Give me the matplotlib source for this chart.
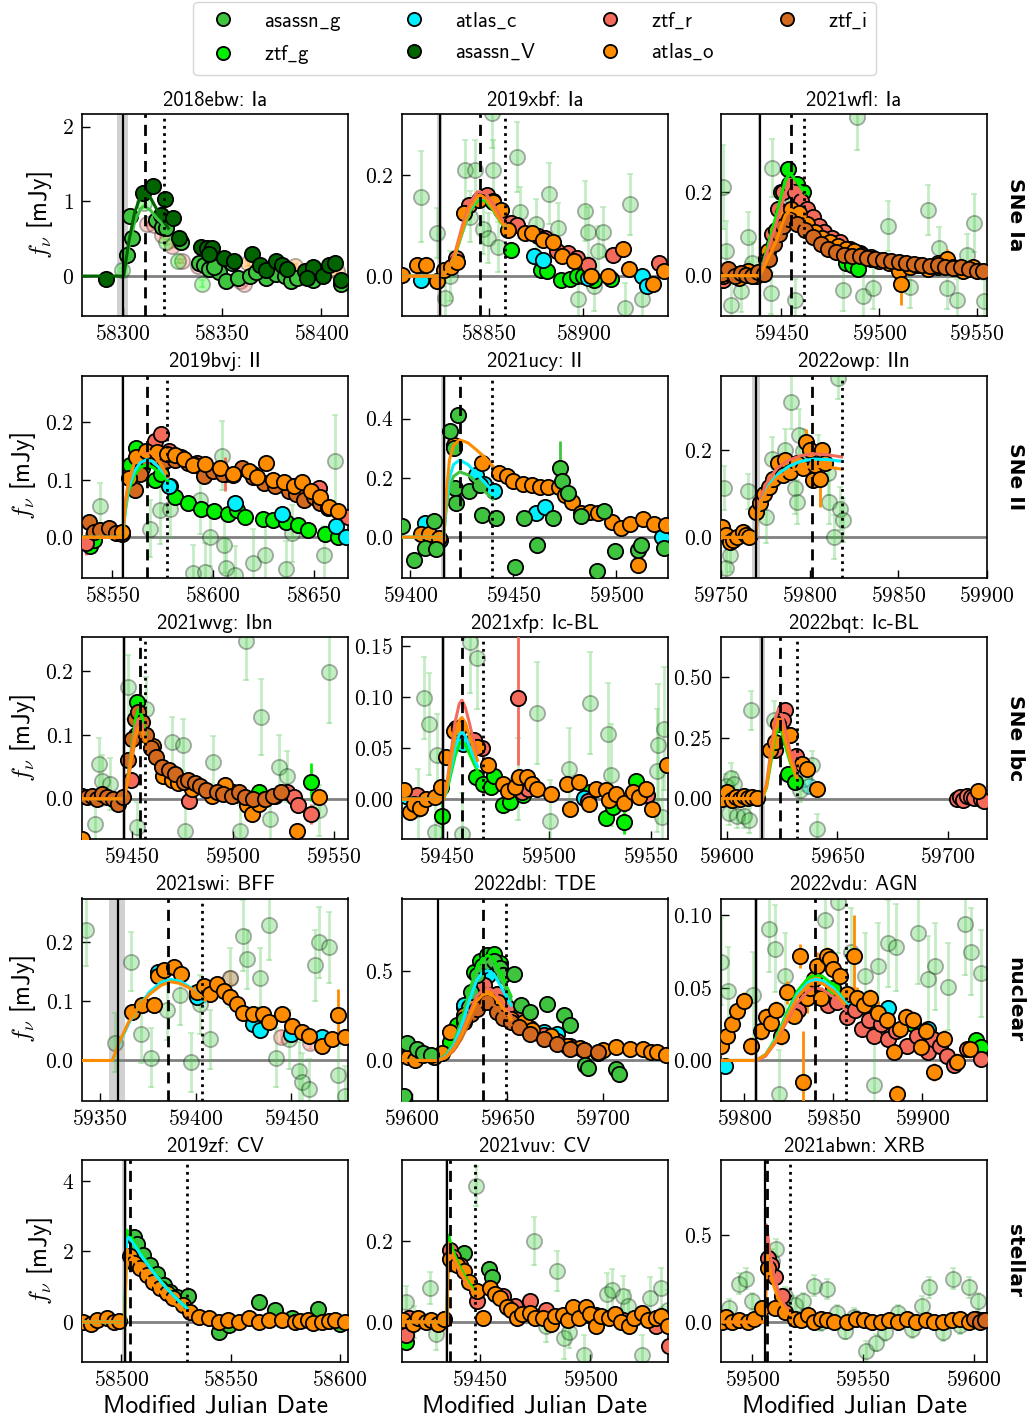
import matplotlib
matplotlib.use("Agg")
import matplotlib.pyplot as plt
from matplotlib.lines import Line2D

plt.rcParams['mathtext.fontset'] = 'cm'
plt.rcParams['font.family'] = 'cmr10'
plt.rcParams['axes.formatter.use_mathtext'] = True
plt.rcParams['axes.unicode_minus'] = False

# Band colours
colors = {
    'asassn_g': '#3fc43f',
    'ztf_g': '#00f000',
    'atlas_c': '#00f0ff',
    'asassn_V': '#006400',
    'ztf_r': '#f46b5c',
    'atlas_o': '#ff8c00',
    'ztf_i': '#d2691e',
}
legend_order = ['asassn_g', 'ztf_g', 'atlas_c', 'asassn_V', 'ztf_r', 'atlas_o', 'ztf_i']

titles = ['2018ebw: Ia', '2019xbf: Ia', '2021wfl: Ia',
          '2019bvj: II', '2021ucy: II', '2022owp: IIn',
          '2021wvg: Ibn', '2021xfp: Ic-BL', '2022bqt: Ic-BL',
          '2021swi: BFF', '2022dbl: TDE', '2022vdu: AGN',
          '2019zf: CV', '2021vuv: CV', '2021abwn: XRB']
row_labels = ['SNe Ia', 'SNe II', 'SNe Ibc', 'nuclear', 'stellar']

# first detection (solid line) with its uncertainty band, peak (dashed), end of fit window (dotted)
t_first = [58300.2, 58824.0, 59438.9, 58555.1, 59416.2, 59769.7, 59446.2, 59448.3, 59616.0,
           59359.7, 59613.7, 59806.7, 58501.5, 59435.0, 59506.0]
t_first_lo = [58297.2, 58822.8, 59438.1, 58554.3, 59414.9, 59767.2, 59445.2, 59447.3, 59614.5,
              59354.5, 59613.2, 59805.7, 58500.5, 59434.3, 59505.5]
t_first_hi = [58302.7, 58825.2, 59439.7, 58555.9, 59417.5, 59772.2, 59447.2, 59449.3, 59617.5,
              59363.1, 59614.2, 59807.7, 58502.5, 59435.7, 59506.5]
t_peak = [58311.0, 58845.2, 59455.1, 58567.2, 59424.2, 59801.5, 59454.4, 59457.4, 59624.0,
          59385.4, 59637.3, 59840.0, 58503.9, 59436.3, 59506.9]
t_cut = [58320.8, 58858.5, 59461.3, 58577.2, 59439.8, 59818.0, 59456.8, 59467.5, 59631.8,
         59403.6, 59649.5, 59857.4, 58530.1, 59447.6, 59517.3]

# ---------------- 2018ebw ----------------
ebw_V_t = [58291.5, 58310.2, 58315.2, 58321.4, 58319.4, 58325.3, 58328.6, 58339.5, 58342.4, 58345.0,
           58343.5, 58351.0, 58356.0, 58365.0, 58369.0, 58372.0, 58377.0, 58380.0, 58383.0, 58392.0,
           58396.0, 58401.0, 58404.0, 58407.0, 58410.0, 58393.0]
ebw_V_f = [-0.04, 1.11, 1.20, 1.03, 0.82, 0.78, 0.51, 0.39, 0.37, 0.38,
           0.30, 0.24, 0.20, 0.30, 0.15, 0.08, 0.20, 0.15, 0.10, 0.07,
           0.12, 0.00, 0.15, 0.18, -0.05, -0.03]
ebw_g_t = [58302.4, 58304.9, 58303.9, 58316.9, 58320.0, 58322.0, 58329.5, 58338.5, 58341.0, 58343.6,
           58348.5, 58352.0, 58355.0, 58358.0, 58364.0, 58372.0, 58377.0, 58382.0, 58385.0, 58396.0,
           58410.0, 58346.0, 58367.0, 58388.0]
ebw_g_f = [0.28, 0.51, 0.80, 0.75, 0.66, 0.64, 0.46, 0.18, 0.15, 0.10,
           0.06, -0.07, 0.17, -0.02, 0.00, -0.02, 0.03, 0.00, -0.07, -0.05,
           -0.10, 0.12, 0.05, -0.03]
ebw_r_weak_t = [58312, 58316, 58320, 58325, 58330, 58338, 58359, 58361]
ebw_r_weak_f = [0.70, 0.68, 0.55, 0.40, 0.20, 0.14, -0.06, -0.10]
ebw_r_weak_e = [0.03, 0.03, 0.03, 0.03, 0.03, 0.03, 0.03, 0.03]
ebw_o_weak_t = [58363, 58387, 58408]
ebw_o_weak_f = [0.17, 0.13, 0.07]
ebw_o_weak_e = [0.03, 0.03, 0.03]
ebw_zg_weak_t = [58299.5, 58310.5, 58322, 58328, 58339.8]
ebw_zg_weak_f = [0.08, 0.98, 0.45, 0.20, -0.10]
ebw_zg_weak_e = [0.03, 0.04, 0.04, 0.03, 0.05]
ebw_fitV_t = [58279.5, 58300.5, 58303, 58306, 58309, 58311, 58314, 58317, 58320, 58323]
ebw_fitV_f = [0, 0, 0.45, 0.85, 1.07, 1.11, 1.05, 0.90, 0.76, 0.64]
ebw_fitg_t = [58300.5, 58303, 58306, 58309, 58311, 58314, 58317, 58320, 58323]
ebw_fitg_f = [0, 0.38, 0.72, 0.90, 0.94, 0.88, 0.78, 0.70, 0.66]

# ---------------- 2019xbf ----------------
xbf_o_t = [58804, 58812, 58816.5, 58822.7, 58826, 58830, 58833.4, 58837, 58845, 58852,
           58856.4, 58860, 58869, 58873, 58878.6, 58884, 58904, 58913, 58921, 58924.5,
           58937, 58943, 58889, 58895]
xbf_o_f = [0.002, 0.022, 0.022, -0.01, 0.012, 0.018, 0.028, 0.124, 0.150, 0.147,
           0.131, 0.091, 0.085, 0.085, 0.071, 0.068, 0.0, 0.0, 0.053, 0.015,
           -0.015, 0.01, 0.04, 0.03]
xbf_r_t = [58832.4, 58839.5, 58849, 58852, 58861.7, 58865, 58876, 58880, 58892, 58897,
           58902.5, 58916, 58940, 58886]
xbf_r_f = [0.035, 0.14, 0.16, 0.148, 0.105, 0.102, 0.08, 0.075, 0.045, 0.035,
           0.022, 0.042, 0.025, 0.05]
xbf_c_t = [58814, 58874, 58878.6, 58902.5, 58931, 58934]
xbf_c_f = [-0.008, 0.04, 0.032, -0.003, 0.0, -0.02]
xbf_zg_t = [58861.7, 58877.7, 58881, 58888.3, 58893, 58897, 58900, 58906, 58915]
xbf_zg_f = [0.052, 0.012, 0.01, -0.008, -0.005, 0.0, 0.0, -0.008, -0.005]
xbf_g_weak_t = [58814, 58822.7, 58827, 58829.6, 58837.2, 58840, 58842.6, 58847.1, 58849.7, 58851.5,
                58852.4, 58855, 58864.8, 58866.5, 58875, 58882, 58886.5, 58897.2, 58901, 58902.5,
                58908, 58910.4, 58906, 58922.4, 58925, 58931]
xbf_g_weak_f = [0.157, 0.085, -0.043, 0.0, 0.21, 0.118, 0.21, 0.094, 0.075, 0.323,
                0.21, 0.058, 0.236, 0.126, 0.103, 0.163, 0.095, -0.045, 0.129, 0.087,
                0.05, 0.087, -0.02, -0.063, 0.142, -0.045]
xbf_g_weak_e = [0.09, 0.05, 0.04, 0.05, 0.06, 0.05, 0.06, 0.05, 0.05, 0.07,
                0.06, 0.05, 0.07, 0.05, 0.05, 0.06, 0.05, 0.05, 0.06, 0.05,
                0.05, 0.05, 0.05, 0.05, 0.06, 0.05]
xbf_fit_t = [58804, 58824, 58828, 58832, 58836, 58840, 58844, 58848, 58852, 58856, 58858.5]
xbf_fit_zg = [0, 0, 0.01, 0.04, 0.086, 0.128, 0.15, 0.15, 0.132, 0.108, 0.097]
xbf_fit_c = [0, 0, 0.01, 0.04, 0.088, 0.132, 0.155, 0.154, 0.135, 0.11, 0.1]
xbf_fit_r = [0, 0, 0.01, 0.045, 0.1, 0.145, 0.167, 0.165, 0.145, 0.118, 0.105]
xbf_fit_o = [0, 0, 0.01, 0.04, 0.09, 0.135, 0.157, 0.155, 0.135, 0.11, 0.098]

# ---------------- 2021wfl ----------------
wfl_i_t = [59419.5, 59422.5, 59426, 59429, 59432, 59435, 59438, 59441, 59443.5, 59446,
           59448.5, 59451, 59454, 59458, 59462, 59466, 59470, 59474, 59478, 59482,
           59486, 59490, 59494, 59498, 59502, 59506, 59510, 59514, 59518, 59522,
           59526, 59530, 59534, 59538, 59542, 59546, 59550, 59553]
wfl_i_f = [0.005, 0.015, 0.0, 0.006, 0.002, 0.0, 0.008, 0.004, 0.04, 0.075,
           0.1, 0.12, 0.135, 0.125, 0.11, 0.092, 0.077, 0.064, 0.056, 0.05,
           0.047, 0.047, 0.043, 0.04, 0.037, 0.034, 0.032, 0.03, 0.028, 0.026,
           0.023, 0.025, 0.02, 0.018, 0.02, 0.015, 0.012, 0.01]
wfl_r_t = [59442, 59445, 59448, 59451, 59454, 59457, 59460, 59463, 59466, 59469,
           59472, 59476, 59480, 59485, 59490, 59496, 59502, 59510, 59520, 59530,
           59540, 59420, 59426]
wfl_r_f = [0.04, 0.1, 0.16, 0.2, 0.22, 0.2, 0.18, 0.16, 0.14, 0.12,
           0.105, 0.09, 0.08, 0.065, 0.055, 0.045, 0.038, 0.03, 0.025, 0.02,
           0.018, -0.01, 0.005]
wfl_o_t = [59420, 59424, 59428, 59433, 59437, 59443, 59447, 59451, 59455, 59459,
           59463, 59467, 59471, 59475, 59479, 59483, 59487, 59491, 59496, 59500,
           59505, 59510, 59511, 59516, 59520, 59525, 59530, 59535, 59538, 59543,
           59548]
wfl_o_f = [0.0, 0.005, -0.005, 0.01, 0.0, 0.06, 0.11, 0.15, 0.16, 0.15,
           0.125, 0.105, 0.09, 0.08, 0.07, 0.065, 0.06, 0.05, 0.04, 0.035,
           0.03, 0.01, -0.02, 0.02, 0.025, 0.015, 0.03, 0.04, 0.02, 0.01,
           0.02]
wfl_o_e = [0.01, 0.01, 0.01, 0.01, 0.01, 0.01, 0.01, 0.01, 0.01, 0.01,
           0.01, 0.01, 0.01, 0.01, 0.01, 0.01, 0.01, 0.01, 0.01, 0.01,
           0.01, 0.01, 0.05, 0.01, 0.01, 0.01, 0.01, 0.025, 0.02, 0.01,
           0.01]
wfl_zg_t = [59450, 59453.5, 59458, 59461, 59483, 59486, 59489]
wfl_zg_f = [0.2, 0.255, 0.22, 0.2, 0.03, 0.025, 0.015]
wfl_g_weak_t = [59420, 59421.5, 59424.2, 59429, 59433, 59435, 59444.9, 59444.8, 59457, 59454,
                59481.5, 59488.5, 59492, 59497, 59504.7, 59516, 59525, 59530.6, 59535, 59539.9,
                59545, 59548.6, 59554]
wfl_g_weak_f = [0.213, 0.06, -0.07, -0.038, 0.093, 0.03, 0.258, -0.042, -0.058, 0.194,
                -0.035, 0.381, -0.05, -0.03, 0.118, -0.027, 0.157, 0.066, -0.03, -0.058,
                0.05, 0.127, -0.06]
wfl_g_weak_e = [0.1, 0.07, 0.06, 0.05, 0.06, 0.05, 0.07, 0.05, 0.05, 0.06,
                0.05, 0.08, 0.05, 0.05, 0.06, 0.05, 0.06, 0.05, 0.05, 0.05,
                0.05, 0.07, 0.05]
wfl_fit_t = [59419, 59438.9, 59447, 59452, 59454.5, 59458, 59462]
wfl_fit_zg = [0, 0, 0.14, 0.23, 0.245, 0.225, 0.198]
wfl_fit_r = [0, 0, 0.12, 0.2, 0.22, 0.205, 0.185]
wfl_fit_o = [0, 0, 0.08, 0.145, 0.158, 0.152, 0.142]
wfl_fit_i = [0, 0, 0.07, 0.125, 0.135, 0.13, 0.12]

# ---------------- 2019bvj ----------------
bvj_i_t = [58538.5, 58541, 58544, 58548.5, 58552, 58555, 58561.3, 58564, 58567.7, 58572,
           58576, 58581, 58587.6, 58591, 58595.5, 58600, 58605, 58610, 58614.6, 58620,
           58625.5, 58631, 58637.6, 58641, 58645, 58650, 58653, 58657]
bvj_i_f = [0.027, 0.01, 0.012, 0.016, 0.008, 0.005, 0.082, 0.11, 0.135, 0.137,
           0.133, 0.135, 0.13, 0.125, 0.106, 0.115, 0.11, 0.108, 0.12, 0.105,
           0.095, 0.09, 0.08, 0.075, 0.065, 0.07, 0.06, 0.051]
bvj_o_t = [58555, 58558.4, 58562, 58567, 58572, 58577, 58581, 58585.6, 58590, 58596,
           58603.6, 58610, 58617.8, 58622, 58626.5, 58630, 58635, 58640, 58644, 58648.4,
           58653, 58657.5, 58662]
bvj_o_f = [0.01, 0.103, 0.14, 0.15, 0.148, 0.145, 0.143, 0.137, 0.126, 0.128,
           0.12, 0.11, 0.115, 0.105, 0.13, 0.1, 0.097, 0.09, 0.097, 0.08,
           0.07, 0.052, 0.045]
bvj_r_t = [58537, 58571, 58574.4, 58578, 58584, 58592, 58606, 58620, 58640, 58652.7, 58667]
bvj_r_f = [-0.01, 0.168, 0.18, 0.15, 0.14, 0.13, 0.11, 0.11, 0.09, 0.085, 0.035]
bvj_r_e = [0.02, 0.005, 0.005, 0.005, 0.005, 0.005, 0.03, 0.005, 0.005, 0.005, 0.005]
bvj_zg_t = [58539, 58541, 58558.7, 58562, 58565, 58571, 58574, 58578.7, 58581, 58587.5,
            58594, 58600.7, 58607.4, 58612, 58616, 58625, 58630, 58636, 58642, 58647,
            58655.8, 58662]
bvj_zg_f = [-0.016, -0.005, 0.125, 0.155, 0.12, 0.1, 0.11, 0.09, 0.07, 0.06,
            0.05, 0.046, 0.04, 0.048, 0.035, 0.032, 0.03, 0.026, 0.022, 0.012,
            0.006, 0.0]
bvj_c_t = [58578.4, 58610.7, 58634, 58661, 58666]
bvj_c_f = [0.09, 0.06, 0.04, 0.02, 0.0]
bvj_g_weak_t = [58543.8, 58568.5, 58573.9, 58578.5, 58590, 58593.8, 58596, 58598.4, 58604.6, 58605.5,
                58606.7, 58611, 58620, 58625.6, 58636, 58639, 58655, 58660.5]
bvj_g_weak_f = [0.055, 0.015, 0.048, 0.05, -0.063, 0.065, -0.06, 0.0, 0.142, -0.013,
                -0.053, -0.065, -0.045, -0.03, -0.056, 0.007, -0.03, 0.132]
bvj_g_weak_e = [0.04, 0.05, 0.06, 0.05, 0.05, 0.06, 0.05, 0.05, 0.06, 0.05,
                0.05, 0.05, 0.06, 0.05, 0.05, 0.05, 0.05, 0.08]
bvj_fit_t = [58535, 58555.1, 58556.5, 58558, 58561, 58564, 58567, 58570, 58573, 58576, 58577.5]
bvj_fit_zg = [0, 0, 0.045, 0.08, 0.108, 0.122, 0.126, 0.122, 0.113, 0.103, 0.098]
bvj_fit_c = [0, 0, 0.05, 0.085, 0.115, 0.13, 0.135, 0.132, 0.122, 0.11, 0.103]
bvj_fit_r = [0, 0, 0.06, 0.095, 0.13, 0.147, 0.15, 0.145, 0.132, 0.115, 0.106]
bvj_fit_o = [0, 0, 0.06, 0.095, 0.13, 0.148, 0.152, 0.146, 0.133, 0.115, 0.105]

# ---------------- 2021ucy ----------------
ucy_g_t = [59396, 59401.6, 59407, 59411.3, 59412.4, 59419.4, 59423.1, 59421, 59421.5, 59422,
           59428.6, 59434, 59435, 59441.6, 59450.6, 59455, 59461.6, 59469, 59472.4, 59473.5,
           59476.6, 59483, 59490.7, 59494, 59499.4, 59510.3, 59512, 59523]
ucy_g_f = [0.036, -0.077, -0.037, 0.053, -0.04, 0.357, 0.413, 0.3, 0.165, 0.115,
           0.154, 0.176, 0.076, 0.064, -0.1, 0.064, -0.025, 0.064, 0.233, 0.19,
           0.15, 0.07, -0.115, 0.087, -0.048, -0.042, -0.025, -0.036]
ucy_g_e = [0.02, 0.02, 0.02, 0.02, 0.02, 0.02, 0.02, 0.02, 0.02, 0.02,
           0.02, 0.02, 0.02, 0.02, 0.02, 0.02, 0.02, 0.02, 0.09, 0.02,
           0.02, 0.02, 0.02, 0.02, 0.02, 0.02, 0.02, 0.02]
ucy_c_t = [59407, 59414.5, 59431.8, 59436, 59440.4, 59461, 59465.2, 59522]
ucy_c_f = [0.047, -0.008, 0.21, 0.18, 0.154, 0.08, 0.1, 0.002]
ucy_o_t = [59405, 59409, 59414, 59421, 59435, 59442.8, 59447, 59450, 59454.6, 59459,
           59463, 59467, 59472, 59475, 59478.6, 59483, 59487, 59491, 59497.8, 59502,
           59506.5, 59510.4, 59513, 59518, 59523.8]
ucy_o_f = [0.01, 0.01, -0.003, 0.31, 0.25, 0.216, 0.205, 0.19, 0.18, 0.175,
           0.17, 0.17, 0.17, 0.143, 0.12, 0.08, 0.085, 0.08, 0.05, 0.03,
           0.045, -0.094, 0.06, 0.045, 0.04]
ucy_fit_t = [59396, 59416.2, 59417.5, 59419, 59421, 59424, 59428, 59432, 59436, 59440]
ucy_fit_g = [0, 0, 0.1, 0.17, 0.205, 0.22, 0.21, 0.185, 0.155, 0.128]
ucy_fit_c = [0, 0, 0.12, 0.2, 0.245, 0.26, 0.245, 0.215, 0.185, 0.154]
ucy_fit_o = [0, 0, 0.15, 0.26, 0.31, 0.328, 0.318, 0.295, 0.27, 0.24]

# ---------------- 2022owp ----------------
owp_o_t = [59750.6, 59753, 59755, 59756.8, 59759, 59762.4, 59764, 59766, 59769.5, 59772,
           59774, 59776.8, 59779.5, 59782.3, 59785, 59786, 59789, 59792.6, 59796, 59798,
           59800, 59802, 59803, 59805.8, 59806.7, 59808.6]
owp_o_f = [0.024, 0.005, -0.01, -0.006, 0.0, 0.013, 0.005, 0.0, 0.059, 0.08,
           0.1, 0.117, 0.135, 0.17, 0.144, 0.178, 0.15, 0.17, 0.16, 0.22,
           0.2, 0.132, 0.167, 0.135, 0.2, 0.17]
owp_o_e = [0.01, 0.01, 0.01, 0.01, 0.01, 0.01, 0.01, 0.01, 0.01, 0.01,
           0.01, 0.01, 0.01, 0.01, 0.01, 0.01, 0.01, 0.01, 0.01, 0.03,
           0.01, 0.01, 0.01, 0.065, 0.01, 0.01]
owp_g_weak_t = [59751.6, 59755, 59752.7, 59765, 59775.5, 59779, 59786, 59789.4, 59792, 59793,
                59794, 59796.5, 59804.5, 59810.4, 59811, 59814, 59816, 59817, 59819]
owp_g_weak_f = [0.113, -0.04, -0.07, 0.106, 0.048, 0.18, 0.2, 0.31, 0.113, 0.082,
                0.236, 0.198, 0.186, 0.147, 0.082, 0.001, 0.367, 0.066, 0.04]
owp_g_weak_e = [0.05, 0.04, 0.05, 0.04, 0.06, 0.05, 0.05, 0.06, 0.06, 0.05,
                0.06, 0.05, 0.05, 0.05, 0.05, 0.05, 0.05, 0.05, 0.05]
owp_fit_t = [59750, 59769.7, 59770.5, 59773, 59777, 59782, 59788, 59795, 59802, 59810, 59818]
owp_fit_r = [0, 0, 0.06, 0.1, 0.135, 0.16, 0.177, 0.188, 0.192, 0.19, 0.185]
owp_fit_c = [0, 0, 0.05, 0.085, 0.12, 0.145, 0.163, 0.175, 0.18, 0.179, 0.175]
owp_fit_o = [0, 0, 0.05, 0.085, 0.115, 0.138, 0.152, 0.16, 0.163, 0.162, 0.157]

# ---------------- 2021wvg ----------------
wvg_i_t = [59425.6, 59428, 59430.5, 59433, 59435.5, 59438, 59441, 59443.3, 59445.8, 59448.3,
           59450, 59451.5, 59453, 59455, 59457, 59459.5, 59462, 59465, 59468.4, 59471.6,
           59475.7, 59478, 59481.5, 59484, 59487, 59492, 59495, 59499.6, 59503, 59506,
           59510, 59516, 59520, 59524]
wvg_i_f = [0.005, 0.003, 0.005, 0.0, 0.008, 0.002, 0.0, -0.008, 0.003, 0.06,
           0.094, 0.125, 0.135, 0.12, 0.1, 0.08, 0.065, 0.05, 0.045, 0.038,
           0.026, 0.03, 0.024, 0.02, 0.013, 0.01, 0.008, 0.005, 0.01, 0.002,
           0.0, 0.0, 0.005, 0.01]
wvg_o_t = [59425.6, 59460.5, 59465.3, 59470, 59473, 59480, 59490, 59496.4, 59501.3, 59507,
           59509.5, 59512.8, 59516, 59521, 59531.8, 59542.5]
wvg_o_f = [-0.063, 0.083, 0.035, 0.03, 0.025, 0.015, 0.005, 0.022, 0.006, -0.01,
           -0.024, -0.008, 0.0, 0.005, -0.05, 0.003]
wvg_r_t = [59449.5, 59452, 59478.6, 59500, 59526.8, 59530.2, 59532.5, 59538.9]
wvg_r_f = [0.03, 0.1, -0.004, 0.01, 0.01, 0.002, -0.01, -0.024]
wvg_r_e = [0.004, 0.004, 0.004, 0.004, 0.004, 0.004, 0.004, 0.015]
wvg_zg_t = [59452.5, 59470, 59513, 59538.9]
wvg_zg_f = [0.152, 0.04, 0.01, 0.026]
wvg_zg_e = [0.004, 0.004, 0.004, 0.03]
wvg_g_weak_t = [59432, 59434, 59435.2, 59439.4, 59448.3, 59452.8, 59457, 59469.8, 59475.6, 59476.3,
                59490.5, 59503.5, 59506.6, 59514, 59518.2, 59522.9, 59527, 59542.8, 59547.7]
wvg_g_weak_f = [-0.04, 0.055, 0.028, 0.023, 0.175, -0.045, 0.14, 0.088, 0.084, -0.05,
                0.058, -0.05, 0.246, 0.128, -0.031, 0.05, 0.035, -0.018, 0.199]
wvg_g_weak_e = [0.04, 0.04, 0.04, 0.04, 0.05, 0.04, 0.05, 0.04, 0.04, 0.04,
                0.04, 0.04, 0.06, 0.06, 0.04, 0.05, 0.04, 0.04, 0.08]
wvg_fit_t = [59425.5, 59446.2, 59448, 59450, 59452, 59453.5, 59455, 59457]
wvg_fit_zg = [0, 0, 0.03, 0.08, 0.125, 0.14, 0.13, 0.1]
wvg_fit_r = [0, 0, 0.03, 0.075, 0.112, 0.125, 0.118, 0.095]
wvg_fit_o = [0, 0, 0.025, 0.065, 0.1, 0.112, 0.108, 0.09]
wvg_fit_i = [0, 0, 0.025, 0.06, 0.095, 0.105, 0.1, 0.085]

# ---------------- 2021xfp ----------------
xfp_o_t = [59428.8, 59432, 59434, 59437, 59440, 59444.4, 59446.9, 59449.4, 59453.5, 59456,
           59465, 59470, 59477.4, 59480, 59483.6, 59485.2, 59489.3, 59491.8, 59494, 59500.8,
           59509, 59510.6, 59514.7, 59519.7, 59522.9, 59527.8, 59529.5, 59533, 59536.9, 59541,
           59544, 59547.5, 59550.8, 59558]
xfp_o_f = [0.009, -0.013, -0.005, -0.009, 0.0, 0.002, 0.012, 0.041, 0.067, 0.07,
           0.051, 0.033, 0.015, 0.008, 0.012, 0.022, 0.022, 0.015, 0.01, 0.005,
           0.015, -0.01, 0.017, -0.005, 0.01, 0.009, -0.001, 0.005, -0.004, 0.007,
           0.002, 0.01, -0.01, 0.033]
xfp_r_t = [59435.4, 59454.5, 59463.5, 59467, 59484.9, 59486.8, 59490, 59519, 59548]
xfp_r_f = [0.004, 0.07, 0.058, 0.05, 0.0987, 0.007, 0.01, -0.002, 0.004]
xfp_r_e = [0.003, 0.005, 0.004, 0.004, 0.065, 0.004, 0.004, 0.004, 0.004]
xfp_c_t = [59430, 59458, 59517]
xfp_c_f = [0.003, 0.054, 0.001]
xfp_zg_t = [59447.6, 59464.3, 59467.6, 59471.7, 59473, 59477.6, 59480.8, 59487.4, 59520, 59528,
            59531.4, 59536.9, 59542.8]
xfp_zg_f = [-0.016, 0.022, 0.015, 0.012, 0.023, -0.006, -0.003, 0.004, 0.007, -0.018,
            -0.008, -0.022, 0.018]
xfp_zg_e = [0.02, 0.005, 0.005, 0.005, 0.005, 0.008, 0.005, 0.005, 0.005, 0.005,
            0.005, 0.012, 0.008]
xfp_g_weak_t = [59438.7, 59441, 59445, 59444, 59461.2, 59465, 59457.5, 59494, 59500.7, 59520,
                59528.8, 59530.7, 59553.6, 59556.5, 59552.8, 59555.3, 59436, 59485, 59510]
xfp_g_weak_f = [0.099, 0.074, 0.043, -0.032, 0.154, 0.138, -0.034, 0.084, -0.021, 0.094,
                0.064, 0.024, 0.053, 0.069, 0.028, -0.017, -0.01, 0.02, 0.03]
xfp_g_weak_e = [0.04, 0.05, 0.04, 0.04, 0.05, 0.05, 0.04, 0.05, 0.04, 0.05,
                0.05, 0.05, 0.06, 0.06, 0.06, 0.05, 0.04, 0.04, 0.04]
xfp_fit_t = [59428, 59448.3, 59450, 59452, 59454, 59456, 59457.4, 59459, 59461, 59463, 59465]
xfp_fit_zg = [0, 0, 0.008, 0.025, 0.042, 0.054, 0.057, 0.053, 0.045, 0.036, 0.028]
xfp_fit_c = [0, 0, 0.01, 0.03, 0.05, 0.063, 0.066, 0.062, 0.052, 0.042, 0.032]
xfp_fit_o = [0, 0, 0.012, 0.038, 0.062, 0.077, 0.08, 0.075, 0.062, 0.05, 0.038]
xfp_fit_r = [0, 0, 0.015, 0.045, 0.075, 0.093, 0.097, 0.09, 0.075, 0.058, 0.045]

# ---------------- 2022bqt ----------------
bqt_o_t = [59597.8, 59600, 59602.2, 59604, 59606, 59608, 59609.8, 59611.5, 59613.5, 59619.5,
           59621.8, 59623.3, 59628.6, 59634, 59636.1, 59640.6, 59713.6]
bqt_o_f = [0.0, 0.027, -0.007, 0.005, 0.0, 0.01, 0.003, 0.008, 0.003, 0.198,
           0.233, 0.308, 0.26, 0.14, 0.123, 0.041, 0.032]
bqt_r_t = [59621.8, 59626.3, 59625.5, 59628, 59631.5, 59704, 59705.5, 59707, 59708.5, 59710.6,
           59712, 59715, 59716.5]
bqt_r_f = [0.198, 0.363, 0.323, 0.26, 0.173, 0.0, 0.007, -0.005, 0.01, 0.007,
           0.003, 0.0, -0.01]
bqt_zg_t = [59627.8, 59630.8]
bqt_zg_f = [0.1, 0.066]
bqt_g_weak_t = [59599.6, 59601.8, 59603.2, 59601, 59604.8, 59607.8, 59610, 59610.8, 59621.2, 59633.3,
                59634.8, 59638.6, 59640.9]
bqt_g_weak_f = [0.05, 0.086, 0.06, -0.06, -0.07, -0.07, -0.09, 0.362, 0.322, 0.034,
                0.082, 0.137, -0.123]
bqt_g_weak_e = [0.05, 0.06, 0.05, 0.05, 0.05, 0.05, 0.05, 0.08, 0.08, 0.05,
                0.05, 0.06, 0.06]
bqt_c_weak_t = [59637]
bqt_c_weak_f = [0.05]
bqt_c_weak_e = [0.03]
bqt_fit_t = [59597.4, 59616, 59618, 59620, 59622, 59623.5, 59625, 59627, 59629, 59631.8]
bqt_fit_zg = [0, 0, 0.045, 0.15, 0.26, 0.29, 0.27, 0.2, 0.14, 0.07]
bqt_fit_o = [0, 0, 0.05, 0.17, 0.28, 0.31, 0.29, 0.22, 0.15, 0.08]
bqt_fit_r = [0, 0, 0.06, 0.2, 0.33, 0.37, 0.34, 0.26, 0.18, 0.09]

# ---------------- 2021swi ----------------
swi_o_t = [59367, 59372, 59378.5, 59380.4, 59383.7, 59388.9, 59392.3, 59400.9, 59404.4, 59407.8,
           59411.3, 59414.7, 59418.1, 59421.5, 59425, 59430, 59435.2, 59438.7, 59445.5, 59450.7,
           59455.8, 59459.3, 59466.1, 59471.3, 59474.7, 59478.2]
swi_o_f = [0.082, 0.093, 0.093, 0.143, 0.152, 0.158, 0.146, 0.115, 0.126, 0.112,
           0.13, 0.118, 0.107, 0.095, 0.081, 0.079, 0.079, 0.065, 0.079, 0.059,
           0.048, 0.042, 0.025, 0.037, 0.076, 0.04]
swi_o_e = [0.006, 0.006, 0.006, 0.006, 0.006, 0.006, 0.006, 0.006, 0.006, 0.006,
           0.006, 0.006, 0.006, 0.006, 0.006, 0.006, 0.006, 0.006, 0.006, 0.006,
           0.006, 0.006, 0.006, 0.006, 0.045, 0.006]
swi_c_t = [59380.4, 59400.9, 59430, 59433.5, 59450, 59466]
swi_c_f = [0.149, 0.107, 0.062, 0.051, 0.045, 0.04]
swi_g_weak_t = [59342.5, 59357.9, 59366.5, 59371.7, 59376.8, 59385, 59392, 59397.5, 59402.6, 59407.8,
                59418, 59425, 59427, 59433.5, 59438.7, 59442, 59449, 59454, 59455.8, 59459.3,
                59462.7, 59464.4, 59469.6, 59474.7, 59478]
swi_g_weak_f = [0.22, 0.03, 0.167, 0.045, 0.005, 0.085, 0.11, -0.003, 0.095, 0.036,
                0.14, 0.211, 0.171, 0.14, 0.229, 0.005, 0.036, -0.018, -0.037, -0.048,
                0.161, 0.2, 0.191, -0.025, -0.06]
swi_g_weak_e = [0.06, 0.05, 0.05, 0.05, 0.05, 0.05, 0.05, 0.05, 0.05, 0.05,
                0.05, 0.06, 0.05, 0.05, 0.06, 0.05, 0.05, 0.05, 0.05, 0.05,
                0.06, 0.06, 0.06, 0.05, 0.05]
swi_r_weak_t = [59418, 59445, 59460]
swi_r_weak_f = [0.14, 0.04, 0.03]
swi_r_weak_e = [0.01, 0.01, 0.01]
swi_fito_t = [59340.6, 59356.5, 59360, 59365, 59370, 59376, 59382, 59387, 59392, 59397, 59402, 59405]
swi_fito_f = [0, 0, 0.03, 0.065, 0.09, 0.112, 0.127, 0.133, 0.13, 0.122, 0.11, 0.102]
swi_fitc_t = [59356.5, 59360, 59365, 59370, 59376, 59382, 59387, 59392, 59397, 59402, 59405]
swi_fitc_f = [0, 0.028, 0.062, 0.09, 0.116, 0.132, 0.137, 0.134, 0.124, 0.11, 0.1]

# ---------------- 2022dbl ----------------
dbl_g_t = [59596, 59597.8, 59603, 59606, 59610, 59627.3, 59630.8, 59634.3, 59637, 59639.5,
           59643, 59646, 59648, 59653.5, 59657, 59662, 59671, 59679.6, 59683, 59690.8,
           59692, 59707, 59708.6]
dbl_g_f = [-0.2, 0.1, 0.065, 0.04, 0.028, 0.234, 0.384, 0.478, 0.53, 0.552,
           0.56, 0.52, 0.478, 0.487, 0.309, 0.272, 0.318, 0.253, 0.2, -0.028,
           -0.045, -0.047, -0.074]
dbl_zg_t = [59620.3, 59623.8, 59627.3, 59632.6, 59636, 59639.5, 59643, 59646]
dbl_zg_f = [0.103, 0.197, 0.3, 0.496, 0.56, 0.59, 0.6, 0.55]
dbl_c_t = [59627.3, 59634, 59640, 59648, 59662, 59669, 59676]
dbl_c_f = [0.309, 0.403, 0.48, 0.356, 0.178, 0.159, 0.15]
dbl_r_t = [59630, 59637.7, 59644.7, 59650, 59655, 59662, 59669, 59676, 59683, 59690, 59697.6]
dbl_r_f = [0.3, 0.422, 0.375, 0.3, 0.234, 0.18, 0.141, 0.11, 0.084, 0.06, 0.04]
dbl_i_t = [59627.4, 59631, 59634.3, 59639.5, 59644.7, 59648, 59651.7, 59656, 59662, 59669,
           59676, 59683, 59690, 59697.6]
dbl_i_f = [0.215, 0.26, 0.29, 0.328, 0.272, 0.24, 0.215, 0.19, 0.15, 0.122,
           0.095, 0.065, 0.056, 0.047]
dbl_o_t = [59598, 59602, 59606, 59611.6, 59616, 59620.3, 59627.3, 59633, 59639.5, 59645,
           59651.7, 59658.6, 59663, 59672.7, 59681.4, 59688, 59700, 59707, 59714, 59721,
           59725, 59728, 59733]
dbl_o_f = [0.019, 0.0, 0.03, 0.019, 0.04, 0.159, 0.253, 0.33, 0.37, 0.33,
           0.234, 0.215, 0.17, 0.14, 0.084, 0.07, 0.06, 0.075, 0.066, 0.065,
           0.05, 0.047, 0.028]
dbl_fit_t = [59595, 59613.7, 59618, 59622, 59626, 59630, 59634, 59637.5, 59640, 59643, 59646, 59649.5, 59652]
dbl_fit_zg = [0, 0, 0.03, 0.1, 0.22, 0.38, 0.52, 0.58, 0.59, 0.57, 0.5, 0.42, 0.36]
dbl_fit_g = [0, 0, 0.028, 0.095, 0.21, 0.36, 0.49, 0.545, 0.555, 0.535, 0.47, 0.4, 0.34]
dbl_fit_c = [0, 0, 0.025, 0.085, 0.19, 0.33, 0.45, 0.5, 0.505, 0.485, 0.43, 0.36, 0.31]
dbl_fit_r = [0, 0, 0.02, 0.07, 0.15, 0.26, 0.36, 0.4, 0.405, 0.39, 0.345, 0.29, 0.25]
dbl_fit_o = [0, 0, 0.018, 0.065, 0.14, 0.24, 0.335, 0.37, 0.375, 0.36, 0.32, 0.27, 0.23]
dbl_fit_i = [0, 0, 0.016, 0.055, 0.12, 0.21, 0.29, 0.32, 0.325, 0.31, 0.275, 0.235, 0.2]

# ---------------- 2022vdu ----------------
vdu_o_t = [59787, 59790.6, 59793, 59796, 59800, 59804, 59809.5, 59812, 59815, 59818,
           59820.6, 59824.3, 59828, 59831.6, 59833, 59835, 59837, 59839, 59841, 59843,
           59846.5, 59848, 59850, 59854, 59857.8, 59861.5, 59863.4, 59867, 59870.8, 59875,
           59880, 59884, 59885.8, 59887.6, 59891, 59895, 59899, 59902, 59906.7, 59912,
           59919.6, 59927]
vdu_o_f = [0.01, 0.017, 0.025, 0.034, 0.041, 0.01, 0.02, 0.03, 0.026, 0.035,
           0.017, 0.047, 0.031, 0.072, -0.015, 0.043, 0.05, 0.056, 0.065, 0.043,
           0.072, 0.07, 0.063, 0.058, 0.046, 0.072, 0.043, 0.038, 0.043, 0.033,
           0.028, 0.006, -0.023, 0.022, 0.03, 0.028, 0.009, 0.02, -0.008, 0.015,
           -0.001, 0.008]
vdu_o_e = [0.006, 0.006, 0.006, 0.006, 0.006, 0.006, 0.006, 0.006, 0.006, 0.006,
           0.006, 0.008, 0.006, 0.008, 0.035, 0.01, 0.008, 0.008, 0.01, 0.008,
           0.006, 0.006, 0.006, 0.006, 0.006, 0.028, 0.008, 0.006, 0.006, 0.008,
           0.006, 0.006, 0.006, 0.006, 0.006, 0.006, 0.006, 0.006, 0.006, 0.006,
           0.006, 0.006]
vdu_r_t = [59830, 59840, 59847, 59852, 59858, 59862, 59866, 59870, 59873, 59877,
           59880.5, 59885, 59891.5, 59897, 59903, 59906, 59910, 59914, 59917.8, 59925,
           59932.9]
vdu_r_f = [0.035, 0.045, 0.038, 0.04, 0.03, 0.035, 0.022, 0.028, 0.017, 0.025,
           0.015, 0.02, 0.01, 0.017, 0.006, 0.015, 0.01, 0.003, -0.003, 0.008,
           0.001]
vdu_c_t = [59789, 59860, 59880.5, 59903]
vdu_c_f = [-0.004, 0.04, 0.036, 0.022]
vdu_zg_t = [59850, 59870, 59895, 59930, 59933]
vdu_zg_f = [0.05, 0.035, 0.025, 0.014, 0.009]
vdu_g_weak_t = [59787.1, 59791, 59805, 59813.8, 59817.5, 59819.4, 59823, 59845.3, 59852.7, 59860.2,
                59867.6, 59873, 59875, 59880.6, 59885, 59897.7, 59903.3, 59907, 59914.4, 59923.7,
                59927.4, 59933]
vdu_g_weak_f = [0.068, 0.048, 0.045, 0.091, 0.077, -0.023, 0.058, 0.097, 0.109, 0.075,
                0.058, -0.017, 0.065, 0.081, 0.078, 0.088, 0.056, 0.065, 0.051, 0.094,
                0.075, 0.06]
vdu_g_weak_e = [0.03, 0.03, 0.03, 0.03, 0.03, 0.03, 0.03, 0.035, 0.035, 0.03,
                0.03, 0.03, 0.03, 0.03, 0.03, 0.035, 0.03, 0.03, 0.03, 0.035,
                0.03, 0.03]
vdu_fit_t = [59787, 59806.7, 59812, 59818, 59824, 59830, 59836, 59840, 59844, 59850, 59857]
vdu_fit_o = [0, 0, 0.004, 0.014, 0.03, 0.044, 0.052, 0.054, 0.053, 0.048, 0.038]
vdu_fit_r = [0, 0, 0.003, 0.013, 0.027, 0.04, 0.048, 0.05, 0.049, 0.044, 0.035]
vdu_fit_c = [0, 0, 0.004, 0.015, 0.031, 0.046, 0.054, 0.056, 0.055, 0.05, 0.04]
vdu_fit_zg = [0, 0, 0.004, 0.016, 0.033, 0.048, 0.057, 0.059, 0.058, 0.052, 0.04]

# ---------------- 2019zf ----------------
zf_o_t = [58482.6, 58486, 58489, 58493.4, 58496.5, 58499, 58504.2, 58505.7, 58508.7, 58511.7,
          58514.7, 58517.8, 58520.8, 58523.8, 58528.3, 58531.3, 58535.8, 58540.3, 58544.9, 58549,
          58554, 58558.6, 58563, 58567.6, 58573.6, 58579.7, 58582, 58585.7, 58588, 58591.7,
          58595, 58597.8, 58602.3]
zf_o_f = [0.0, -0.05, 0.05, 0.1, 0.0, 0.02, 1.86, 1.67, 1.52, 1.33,
          1.14, 0.95, 0.81, 0.67, 0.48, 0.29, 0.14, 0.1, 0.0, 0.05,
          0.0, 0.1, 0.0, 0.05, 0.05, 0.0, 0.03, 0.05, -0.02, 0.0,
          0.03, 0.05, 0.0]
zf_g_t = [58505.7, 58507.2, 58510, 58513, 58516.5, 58519.5, 58522.3, 58525.5, 58530.5, 58544.9,
          58549.5, 58563, 58570.5, 58578, 58590, 58600]
zf_g_f = [2.4, 2.21, 1.9, 1.6, 1.35, 1.05, 0.86, 0.7, 0.73, -0.29,
          -0.1, 0.57, 0.33, 0.1, 0.38, -0.05]
zf_fit_t = [58482, 58501.5, 58502.5, 58503.5, 58506, 58510, 58515, 58520, 58525, 58530]
zf_fit_zg = [0, 0, 2.6, 2.55, 2.25, 1.85, 1.4, 1.02, 0.68, 0.4]
zf_fit_c = [0, 0, 2.35, 2.4, 2.18, 1.8, 1.38, 1.0, 0.68, 0.38]
zf_fit_o = [0, 0, 2.05, 2.0, 1.75, 1.4, 1.02, 0.72, 0.48, 0.28]

# ---------------- 2021vuv ----------------
vuv_o_t = [59415.1, 59419.6, 59422, 59425.6, 59428, 59431, 59433.5, 59436.6, 59439.6, 59442.6,
           59445, 59448.6, 59451.6, 59454.6, 59457, 59459.1, 59462.1, 59464, 59466.6, 59469,
           59472.6, 59475, 59478.6, 59482, 59484, 59487.6, 59490, 59492.1, 59495, 59498.1,
           59500, 59502.6, 59505, 59508.6, 59511, 59514, 59517.6, 59520, 59523.6, 59526,
           59529.6, 59532, 59535]
vuv_o_f = [0.004, -0.004, 0.01, 0.0, 0.005, -0.005, 0.008, 0.157, 0.142, 0.126,
           0.1, 0.076, 0.009, 0.084, 0.07, 0.06, 0.037, 0.03, 0.009, 0.02,
           0.021, 0.01, 0.009, -0.005, 0.015, 0.017, 0.005, 0.037, 0.01, 0.037,
           0.02, -0.009, 0.015, 0.009, 0.02, 0.0, -0.009, 0.01, 0.021, 0.005,
           0.009, 0.015, -0.01]
vuv_r_t = [59416.6, 59418, 59436.6, 59438, 59441, 59448.6, 59460.6, 59466, 59472.6, 59480,
           59490, 59502.6, 59515, 59529.6, 59535.6]
vuv_r_f = [-0.033, 0.01, 0.178, 0.16, 0.14, 0.052, 0.064, 0.04, 0.052, 0.03,
           0.01, 0.017, 0.005, -0.009, -0.06]
vuv_r_e = [0.03, 0.005, 0.005, 0.005, 0.005, 0.005, 0.005, 0.005, 0.005, 0.005,
           0.005, 0.005, 0.005, 0.005, 0.01]
vuv_zg_t = [59416.6, 59499.6]
vuv_zg_f = [-0.05, 0.017]
vuv_zg_e = [0.015, 0.005]
vuv_g_t = [59442.6, 59454, 59455.6]
vuv_g_f = [0.17, 0.13, 0.11]
vuv_g_weak_t = [59416.6, 59420, 59427.2, 59430, 59448.3, 59474.6, 59480, 59485, 59488, 59490.5,
                59497, 59507.6, 59510, 59514.6, 59517, 59523.6, 59527, 59532, 59535]
vuv_g_weak_f = [0.05, 0.0, 0.084, -0.03, 0.337, 0.2, -0.01, 0.126, -0.041, -0.025,
                -0.083, 0.07, 0.08, 0.063, 0.04, -0.083, 0.06, 0.084, 0.03]
vuv_g_weak_e = [0.04, 0.04, 0.04, 0.04, 0.05, 0.06, 0.04, 0.05, 0.05, 0.04,
                0.05, 0.05, 0.05, 0.05, 0.04, 0.05, 0.05, 0.05, 0.05]
vuv_fit_t = [59414.7, 59435, 59435.8, 59437, 59439, 59441, 59443, 59445, 59447.6]
vuv_fit_zg = [0, 0, 0.215, 0.19, 0.16, 0.135, 0.115, 0.097, 0.078]
vuv_fit_r = [0, 0, 0.19, 0.17, 0.145, 0.122, 0.103, 0.088, 0.07]
vuv_fit_o = [0, 0, 0.195, 0.175, 0.15, 0.127, 0.108, 0.09, 0.072]

# ---------------- 2021abwn ----------------
abwn_o_t = [59486.5, 59488.3, 59491, 59494, 59498.4, 59501, 59504.3, 59507.3, 59510.3, 59514.7,
            59519.2, 59522, 59525.2, 59528, 59531.1, 59534, 59537.1, 59543, 59547, 59550.5,
            59554, 59558, 59562, 59566, 59569.8, 59574, 59578.7, 59582, 59586.2, 59590,
            59594, 59598, 59601, 59604]
abwn_o_f = [0.0, 0.03, 0.0, 0.01, 0.0, 0.02, 0.08, 0.31, 0.08, 0.06,
            0.02, 0.01, 0.04, 0.0, 0.02, 0.01, 0.0, 0.0, 0.02, 0.01,
            0.0, 0.0, 0.01, 0.0, 0.02, 0.0, 0.01, 0.0, 0.0, 0.01,
            0.02, 0.0, 0.02, 0.01]
abwn_r_t = [59507.3, 59508.5, 59510.3, 59513.3]
abwn_r_f = [0.37, 0.33, 0.26, 0.15]
abwn_i_t = [59600, 59603, 59605]
abwn_i_f = [0.02, 0.0, 0.01]
abwn_g_weak_t = [59489.7, 59494, 59497.1, 59500, 59508.8, 59511, 59515, 59519.2, 59523, 59528.1,
                 59531, 59534, 59538.5, 59542, 59546, 59551.4, 59556, 59560, 59566, 59572,
                 59576.5, 59580, 59586.2, 59590.7, 59594, 59598, 59602]
abwn_g_weak_f = [0.08, 0.22, 0.25, 0.12, 0.35, 0.42, 0.15, 0.1, 0.12, 0.21,
                 0.0, 0.19, 0.05, -0.05, 0.03, -0.17, -0.12, -0.06, 0.05, -0.04,
                 0.09, 0.2, -0.06, 0.25, -0.02, 0.2, 0.12]
abwn_g_weak_e = [0.05, 0.06, 0.06, 0.05, 0.07, 0.06, 0.05, 0.05, 0.05, 0.06,
                 0.05, 0.06, 0.05, 0.05, 0.05, 0.06, 0.05, 0.05, 0.05, 0.05,
                 0.06, 0.06, 0.05, 0.06, 0.05, 0.06, 0.05]
abwn_fit_t = [59486, 59506, 59506.6, 59508, 59510, 59512, 59514, 59517]
abwn_fit_o = [0, 0, 0.4, 0.3, 0.2, 0.13, 0.085, 0.045]
abwn_fit_r = [0, 0, 0.56, 0.4, 0.26, 0.17, 0.11, 0.06]


# Panel layout: axis ranges, ticks and which series go in each panel
panels = [
    dict(xlim=(58279.5, 58413.5), ylim=(-0.535, 2.17), xticks=[58300, 58350, 58400], yticks=[0, 1, 2],
         weak=[('ztf_r', ebw_r_weak_t, ebw_r_weak_f, ebw_r_weak_e),
               ('atlas_o', ebw_o_weak_t, ebw_o_weak_f, ebw_o_weak_e),
               ('ztf_g', ebw_zg_weak_t, ebw_zg_weak_f, ebw_zg_weak_e)],
         points=[('asassn_g', ebw_g_t, ebw_g_f, None), ('asassn_V', ebw_V_t, ebw_V_f, None)],
         fits=[('asassn_g', ebw_fitg_t, ebw_fitg_f), ('asassn_V', ebw_fitV_t, ebw_fitV_f)]),
    dict(xlim=(58804, 58945), ylim=(-0.079, 0.321), xticks=[58850, 58900], yticks=[0.0, 0.2],
         weak=[('asassn_g', xbf_g_weak_t, xbf_g_weak_f, xbf_g_weak_e)],
         points=[('ztf_g', xbf_zg_t, xbf_zg_f, None), ('atlas_c', xbf_c_t, xbf_c_f, None),
                 ('ztf_r', xbf_r_t, xbf_r_f, None), ('atlas_o', xbf_o_t, xbf_o_f, None)],
         fits=[('ztf_g', xbf_fit_t, xbf_fit_zg), ('atlas_c', xbf_fit_t, xbf_fit_c),
               ('ztf_r', xbf_fit_t, xbf_fit_r), ('atlas_o', xbf_fit_t, xbf_fit_o)]),
    dict(xlim=(59419, 59555.3), ylim=(-0.097, 0.388), xticks=[59450, 59500, 59550], yticks=[0.0, 0.2],
         weak=[('asassn_g', wfl_g_weak_t, wfl_g_weak_f, wfl_g_weak_e)],
         points=[('ztf_g', wfl_zg_t, wfl_zg_f, None), ('ztf_r', wfl_r_t, wfl_r_f, None),
                 ('atlas_o', wfl_o_t, wfl_o_f, wfl_o_e), ('ztf_i', wfl_i_t, wfl_i_f, None)],
         fits=[('ztf_g', wfl_fit_t, wfl_fit_zg), ('ztf_r', wfl_fit_t, wfl_fit_r),
               ('ztf_i', wfl_fit_t, wfl_fit_i), ('atlas_o', wfl_fit_t, wfl_fit_o)]),
    dict(xlim=(58535, 58667), ylim=(-0.07, 0.2815), xticks=[58550, 58600, 58650], yticks=[0.0, 0.1, 0.2],
         weak=[('asassn_g', bvj_g_weak_t, bvj_g_weak_f, bvj_g_weak_e)],
         points=[('ztf_g', bvj_zg_t, bvj_zg_f, None), ('atlas_c', bvj_c_t, bvj_c_f, None),
                 ('ztf_r', bvj_r_t, bvj_r_f, bvj_r_e), ('ztf_i', bvj_i_t, bvj_i_f, None),
                 ('atlas_o', bvj_o_t, bvj_o_f, None)],
         fits=[('ztf_g', bvj_fit_t, bvj_fit_zg), ('atlas_c', bvj_fit_t, bvj_fit_c),
               ('ztf_r', bvj_fit_t, bvj_fit_r), ('atlas_o', bvj_fit_t, bvj_fit_o)]),
    dict(xlim=(59396, 59525), ylim=(-0.136, 0.545), xticks=[59400, 59450, 59500], yticks=[0.0, 0.2, 0.4],
         weak=[],
         points=[('atlas_c', ucy_c_t, ucy_c_f, None), ('atlas_o', ucy_o_t, ucy_o_f, None),
                 ('asassn_g', ucy_g_t, ucy_g_f, ucy_g_e)],
         fits=[('asassn_g', ucy_fit_t, ucy_fit_g), ('atlas_c', ucy_fit_t, ucy_fit_c),
               ('atlas_o', ucy_fit_t, ucy_fit_o)]),
    dict(xlim=(59750, 59900), ylim=(-0.092, 0.372), xticks=[59750, 59800, 59850, 59900], yticks=[0.0, 0.2],
         weak=[('asassn_g', owp_g_weak_t, owp_g_weak_f, owp_g_weak_e)],
         points=[('atlas_o', owp_o_t, owp_o_f, owp_o_e)],
         fits=[('ztf_r', owp_fit_t, owp_fit_r), ('atlas_c', owp_fit_t, owp_fit_c),
               ('atlas_o', owp_fit_t, owp_fit_o)]),
    dict(xlim=(59425.5, 59557), ylim=(-0.063, 0.253), xticks=[59450, 59500, 59550], yticks=[0.0, 0.1, 0.2],
         weak=[('asassn_g', wvg_g_weak_t, wvg_g_weak_f, wvg_g_weak_e)],
         points=[('ztf_g', wvg_zg_t, wvg_zg_f, wvg_zg_e), ('ztf_r', wvg_r_t, wvg_r_f, wvg_r_e),
                 ('atlas_o', wvg_o_t, wvg_o_f, None), ('ztf_i', wvg_i_t, wvg_i_f, None)],
         fits=[('ztf_g', wvg_fit_t, wvg_fit_zg), ('ztf_r', wvg_fit_t, wvg_fit_r),
               ('ztf_i', wvg_fit_t, wvg_fit_i), ('atlas_o', wvg_fit_t, wvg_fit_o)]),
    dict(xlim=(59428, 59558.4), ylim=(-0.039, 0.1588), xticks=[59450, 59500, 59550],
         yticks=[0.0, 0.05, 0.10, 0.15],
         weak=[('asassn_g', xfp_g_weak_t, xfp_g_weak_f, xfp_g_weak_e)],
         points=[('ztf_g', xfp_zg_t, xfp_zg_f, xfp_zg_e), ('atlas_c', xfp_c_t, xfp_c_f, None),
                 ('ztf_r', xfp_r_t, xfp_r_f, xfp_r_e), ('atlas_o', xfp_o_t, xfp_o_f, None)],
         fits=[('ztf_g', xfp_fit_t, xfp_fit_zg), ('atlas_c', xfp_fit_t, xfp_fit_c),
               ('ztf_r', xfp_fit_t, xfp_fit_r), ('atlas_o', xfp_fit_t, xfp_fit_o)]),
    dict(xlim=(59597.4, 59717.7), ylim=(-0.166, 0.663), xticks=[59600, 59650, 59700],
         yticks=[0.0, 0.25, 0.50],
         weak=[('asassn_g', bqt_g_weak_t, bqt_g_weak_f, bqt_g_weak_e),
               ('atlas_c', bqt_c_weak_t, bqt_c_weak_f, bqt_c_weak_e)],
         points=[('ztf_g', bqt_zg_t, bqt_zg_f, None), ('ztf_r', bqt_r_t, bqt_r_f, None),
                 ('atlas_o', bqt_o_t, bqt_o_f, None)],
         fits=[('ztf_g', bqt_fit_t, bqt_fit_zg), ('ztf_r', bqt_fit_t, bqt_fit_r),
               ('atlas_o', bqt_fit_t, bqt_fit_o)]),
    dict(xlim=(59340.6, 59479.8), ylim=(-0.0676, 0.2736), xticks=[59350, 59400, 59450],
         yticks=[0.0, 0.1, 0.2],
         weak=[('asassn_g', swi_g_weak_t, swi_g_weak_f, swi_g_weak_e),
               ('ztf_r', swi_r_weak_t, swi_r_weak_f, swi_r_weak_e)],
         points=[('atlas_c', swi_c_t, swi_c_f, None), ('atlas_o', swi_o_t, swi_o_f, swi_o_e)],
         fits=[('atlas_c', swi_fitc_t, swi_fitc_f), ('atlas_o', swi_fito_t, swi_fito_f)]),
    dict(xlim=(59595, 59734), ylim=(-0.225, 0.91), xticks=[59600, 59650, 59700], yticks=[0.0, 0.5],
         weak=[],
         points=[('ztf_g', dbl_zg_t, dbl_zg_f, None), ('atlas_c', dbl_c_t, dbl_c_f, None),
                 ('ztf_r', dbl_r_t, dbl_r_f, None), ('atlas_o', dbl_o_t, dbl_o_f, None),
                 ('ztf_i', dbl_i_t, dbl_i_f, None), ('asassn_g', dbl_g_t, dbl_g_f, None)],
         fits=[('ztf_g', dbl_fit_t, dbl_fit_zg), ('asassn_g', dbl_fit_t, dbl_fit_g),
               ('atlas_c', dbl_fit_t, dbl_fit_c), ('ztf_r', dbl_fit_t, dbl_fit_r),
               ('ztf_i', dbl_fit_t, dbl_fit_i), ('atlas_o', dbl_fit_t, dbl_fit_o)]),
    dict(xlim=(59787, 59936.3), ylim=(-0.0276, 0.1117), xticks=[59800, 59850, 59900],
         yticks=[0.0, 0.05, 0.10],
         weak=[('asassn_g', vdu_g_weak_t, vdu_g_weak_f, vdu_g_weak_e)],
         points=[('ztf_g', vdu_zg_t, vdu_zg_f, None), ('atlas_c', vdu_c_t, vdu_c_f, None),
                 ('ztf_r', vdu_r_t, vdu_r_f, None), ('atlas_o', vdu_o_t, vdu_o_f, vdu_o_e)],
         fits=[('ztf_g', vdu_fit_t, vdu_fit_zg), ('atlas_c', vdu_fit_t, vdu_fit_c),
               ('ztf_r', vdu_fit_t, vdu_fit_r), ('atlas_o', vdu_fit_t, vdu_fit_o)]),
    dict(xlim=(58482, 58603.8), ylim=(-1.136, 4.59), xticks=[58500, 58550, 58600], yticks=[0, 2, 4],
         weak=[],
         points=[('asassn_g', zf_g_t, zf_g_f, None), ('atlas_o', zf_o_t, zf_o_f, None)],
         fits=[('ztf_g', zf_fit_t, zf_fit_zg), ('atlas_c', zf_fit_t, zf_fit_c),
               ('atlas_o', zf_fit_t, zf_fit_o)]),
    dict(xlim=(59414.7, 59535.2), ylim=(-0.0993, 0.401), xticks=[59450, 59500], yticks=[0.0, 0.2],
         weak=[('asassn_g', vuv_g_weak_t, vuv_g_weak_f, vuv_g_weak_e)],
         points=[('ztf_g', vuv_zg_t, vuv_zg_f, vuv_zg_e), ('asassn_g', vuv_g_t, vuv_g_f, None),
                 ('ztf_r', vuv_r_t, vuv_r_f, vuv_r_e), ('atlas_o', vuv_o_t, vuv_o_f, None)],
         fits=[('ztf_g', vuv_fit_t, vuv_fit_zg), ('ztf_r', vuv_fit_t, vuv_fit_r),
               ('atlas_o', vuv_fit_t, vuv_fit_o)]),
    dict(xlim=(59486, 59606), ylim=(-0.231, 0.935), xticks=[59500, 59550, 59600], yticks=[0.0, 0.5],
         weak=[('asassn_g', abwn_g_weak_t, abwn_g_weak_f, abwn_g_weak_e)],
         points=[('ztf_r', abwn_r_t, abwn_r_f, None), ('atlas_o', abwn_o_t, abwn_o_f, None),
                 ('ztf_i', abwn_i_t, abwn_i_f, None)],
         fits=[('ztf_r', abwn_fit_t, abwn_fit_r), ('atlas_o', abwn_fit_t, abwn_fit_o)]),
]


W, H = 1033, 1423
fig = plt.figure(figsize=(W / 100, H / 100), dpi=100)

col_left = [82, 402, 721]
row_top = [114, 375.5, 637, 898.5, 1160]
ax_w, ax_h = 266, 202

for k, p in enumerate(panels):
    row, col = divmod(k, 3)
    ax = fig.add_axes([col_left[col] / W, 1 - (row_top[row] + ax_h) / H, ax_w / W, ax_h / H])

    ax.axhline(0, color='gray', lw=2, zorder=1.5)
    ax.axvspan(t_first_lo[k], t_first_hi[k], color='0.82', lw=0, zorder=1)
    ax.axvline(t_first[k], color='k', lw=1.6, zorder=5)
    ax.axvline(t_peak[k], color='k', lw=2, ls=(0, (4, 2.5)), zorder=5)
    ax.axvline(t_cut[k], color='k', lw=2, ls=(0, (1, 1.6)), zorder=5)

    for band, t, f, e in p['weak']:
        c = colors[band]
        ax.errorbar(t, f, yerr=e, fmt='o', ms=11, mfc=c, mec='k', mew=1.3,
                    ecolor=c, elinewidth=2, capsize=2, alpha=0.3, zorder=2)
    for band, t, f, e in p['points']:
        c = colors[band]
        ax.errorbar(t, f, yerr=e, fmt='o', ms=11, mfc=c, mec='k', mew=1.3,
                    ecolor=c, elinewidth=2, capsize=0, zorder=3)
    for band, t, f in p['fits']:
        ax.plot(t, f, color=colors[band], lw=2.2, zorder=4)

    ax.set_xlim(p['xlim'])
    ax.set_ylim(p['ylim'])
    ax.set_xticks(p['xticks'])
    ax.set_yticks(p['yticks'])
    ax.tick_params(direction='in', length=6, width=1, labelsize=15.5, pad=6,
                   top=False, right=False)
    for s in ax.spines.values():
        s.set_linewidth(1.2)
    ax.set_title(titles[k], fontfamily='cmss10', fontsize=15, pad=6)

    if col == 0:
        ax.set_ylabel(r'$f_\nu$ [mJy]', fontfamily='cmss10', fontsize=18, labelpad=5)
    if row == 4:
        ax.set_xlabel('Modified Julian Date', fontfamily='cmss10', fontsize=18.5, labelpad=3)
    if col == 2:
        yc = 1 - (row_top[row] + ax_h / 2) / H
        fig.text(1015 / W, yc, row_labels[row], rotation=-90, ha='center', va='center',
                 fontfamily='DejaVu Sans', fontweight='bold', fontsize=14.5)

handles = [Line2D([], [], marker='o', ls='', mfc=colors[b], mec='k', mew=1.3, ms=9.5)
           for b in legend_order]
labels = [b.replace('_', r'$\_$') for b in legend_order]
fig.legend(handles, labels, loc='upper center', bbox_to_anchor=(534.5 / W, 1.0),
           ncol=4, prop={'family': 'cmss10', 'size': 15}, frameon=True, fancybox=True,
           edgecolor='0.8', columnspacing=2.5, handletextpad=0.97, handlelength=2.0,
           borderaxespad=0.1, labelspacing=0.52)

fig.savefig('out.png', dpi=100)
